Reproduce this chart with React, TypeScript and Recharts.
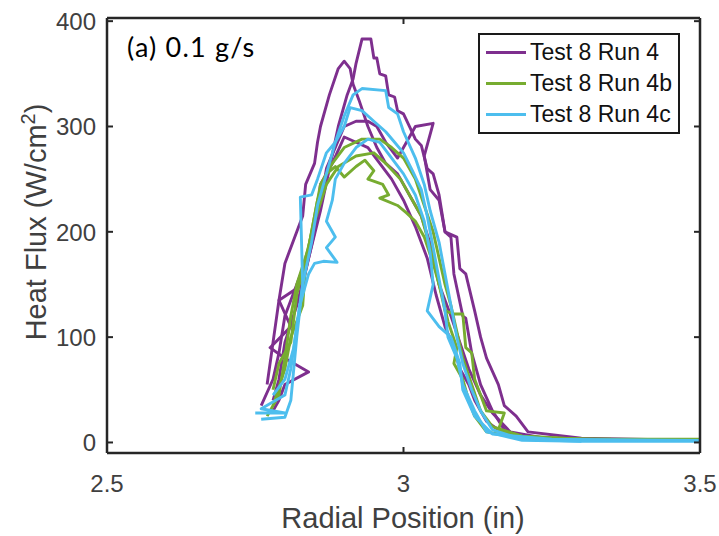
import { LineChart, Line, XAxis, YAxis } from 'recharts'

type Pt = [number, number]

// Test 8 Run 4 (purple) - each sweep is its own trace
const run4A: Pt[] = [
  [2.78, 40], [2.79, 60], [2.8, 95], [2.82, 130], [2.84, 175], [2.86, 220], [2.875, 260],
  [2.89, 300], [2.905, 330], [2.915, 345], [2.92, 360], [2.93, 383], [2.945, 383], [2.95, 365],
  [2.955, 365], [2.96, 350], [2.97, 348], [2.975, 330], [2.985, 328], [2.99, 315], [3.0, 312],
  [3.01, 300], [3.02, 288], [3.03, 282], [3.04, 260], [3.05, 255], [3.06, 235], [3.07, 200],
  [3.08, 195], [3.085, 160], [3.1, 120], [3.105, 118], [3.115, 85], [3.13, 55], [3.15, 30],
  [3.17, 12], [3.2, 5], [3.3, 3], [3.5, 2],
]
const run4B: Pt[] = [
  [2.77, 55], [2.78, 95], [2.79, 135], [2.8, 170], [2.82, 200], [2.83, 215], [2.835, 245],
  [2.85, 265], [2.855, 285], [2.86, 300], [2.875, 330], [2.89, 355], [2.9, 362], [2.91, 355],
  [2.915, 340], [2.925, 325], [2.94, 300], [2.955, 280], [2.97, 265], [2.99, 255], [3.01, 235],
  [3.03, 215], [3.05, 180], [3.06, 150], [3.08, 120], [3.095, 95], [3.11, 70], [3.13, 45],
  [3.15, 28], [3.18, 10], [3.25, 3], [3.4, 2],
]
const run4C: Pt[] = [
  [2.76, 35], [2.78, 60], [2.79, 85], [2.8, 120], [2.82, 150], [2.84, 180], [2.86, 225],
  [2.87, 260], [2.885, 280], [2.9, 300], [2.92, 305], [2.94, 305], [2.955, 300], [2.97, 285],
  [2.99, 270], [3.02, 300], [3.05, 303], [3.035, 272], [3.045, 240], [3.06, 230], [3.07, 200],
  [3.09, 195], [3.095, 165], [3.105, 160], [3.12, 125], [3.13, 100], [3.14, 80], [3.16, 55],
  [3.17, 35], [3.19, 25], [3.21, 10], [3.3, 4], [3.5, 2],
]
const run4D: Pt[] = [
  [2.78, 30], [2.79, 40], [2.8, 55], [2.84, 67], [2.8, 80], [2.775, 90], [2.81, 110],
  [2.79, 135], [2.83, 150], [2.85, 200], [2.86, 245], [2.88, 265], [2.9, 290], [2.92, 285],
  [2.94, 280], [2.96, 265], [2.98, 250], [3.0, 230], [3.02, 205], [3.04, 175], [3.055, 140],
  [3.07, 110], [3.085, 90], [3.095, 70], [3.11, 55], [3.12, 40], [3.14, 20], [3.17, 8], [3.2, 3],
]

// Test 8 Run 4b (green)
const run4bA: Pt[] = [
  [2.77, 25], [2.79, 45], [2.8, 80], [2.81, 120], [2.82, 150], [2.84, 185], [2.85, 215],
  [2.86, 245], [2.88, 265], [2.9, 280], [2.93, 288], [2.96, 288], [2.98, 280], [3.0, 270],
  [3.02, 250], [3.035, 225], [3.05, 200], [3.06, 175], [3.07, 150], [3.08, 130], [3.09, 105],
  [3.1, 80], [3.115, 55], [3.13, 30], [3.15, 15], [3.2, 6], [3.3, 3], [3.5, 3],
]
const run4bB: Pt[] = [
  [2.78, 35], [2.8, 70], [2.81, 100], [2.83, 130], [2.835, 170], [2.845, 200], [2.855, 230],
  [2.87, 255], [2.885, 262], [2.9, 252], [2.92, 262], [2.935, 268], [2.95, 258], [2.94, 250],
  [2.965, 245], [2.975, 235], [2.96, 232], [2.99, 225], [3.005, 218], [3.02, 210], [3.035, 195],
  [3.05, 170], [3.065, 140], [3.075, 115], [3.09, 90], [3.085, 75], [3.1, 60], [3.11, 40],
  [3.12, 25], [3.14, 10], [3.2, 4], [3.35, 3],
]
const run4bC: Pt[] = [
  [2.78, 50], [2.79, 75], [2.81, 95], [2.82, 140], [2.835, 175], [2.85, 210], [2.87, 245],
  [2.89, 262], [2.92, 272], [2.95, 275], [2.97, 265], [2.995, 250], [3.01, 235], [3.03, 215],
  [3.045, 185], [3.06, 150], [3.07, 125], [3.085, 122], [3.1, 122], [3.105, 90], [3.115, 85],
  [3.12, 60], [3.13, 45], [3.14, 30], [3.17, 28], [3.16, 12], [3.2, 6], [3.3, 3],
]

// Test 8 Run 4c (cyan)
const run4cA: Pt[] = [
  [2.75, 28], [2.8, 28], [2.76, 32], [2.8, 45], [2.81, 70], [2.82, 110], [2.83, 150],
  [2.845, 190], [2.855, 225], [2.87, 255], [2.885, 285], [2.9, 310], [2.915, 330], [2.93, 336],
  [2.97, 334], [2.975, 318], [2.99, 312], [3.0, 295], [3.02, 270], [3.035, 245], [3.045, 220],
  [3.06, 190], [3.07, 160], [3.08, 130], [3.09, 100], [3.1, 75], [3.115, 50], [3.13, 30],
  [3.15, 12], [3.2, 3], [3.3, 1], [3.5, 1],
]
const run4cB: Pt[] = [
  [2.76, 22], [2.8, 24], [2.81, 40], [2.815, 70], [2.82, 100], [2.83, 150], [2.826, 233],
  [2.845, 235], [2.855, 250], [2.87, 275], [2.885, 285], [2.9, 300], [2.91, 318], [2.93, 315],
  [2.95, 305], [2.97, 295], [2.985, 285], [3.0, 275], [3.015, 258], [3.03, 240], [3.04, 215],
  [3.05, 185], [3.06, 155], [3.07, 125], [3.075, 100], [3.09, 80], [3.1, 55], [3.12, 30],
  [3.14, 10], [3.2, 2], [3.3, 1],
]
const run4cC: Pt[] = [
  [2.78, 45], [2.8, 60], [2.815, 90], [2.825, 130], [2.84, 160], [2.85, 170], [2.865, 172],
  [2.888, 171], [2.87, 185], [2.885, 195], [2.87, 210], [2.88, 230], [2.885, 250], [2.9, 265],
  [2.92, 280], [2.94, 288], [2.96, 285], [2.98, 270], [3.0, 255], [3.02, 235], [3.035, 210],
  [3.045, 180], [3.05, 150], [3.04, 125], [3.06, 110], [3.08, 100], [3.095, 75], [3.1, 50],
  [3.12, 25], [3.15, 8], [3.25, 3], [3.5, 2],
]

const xTicks = [2.5, 3, 3.5]
const yTicks = [0, 100, 200, 300, 400]

const series = [
  { name: 'Test 8 Run 4', color: '#7E2F8E', traces: [run4A, run4B, run4C, run4D] },
  { name: 'Test 8 Run 4b', color: '#77AC30', traces: [run4bA, run4bB, run4bC] },
  { name: 'Test 8 Run 4c', color: '#4DBEEE', traces: [run4cA, run4cB, run4cC] },
]

const FONT = '"Liberation Sans", Arial, sans-serif'
const AXIS = '#262626'
const TICK_TEXT = '#404040'

function BottomTick(props: any) {
  const { x, y, payload } = props
  return (
    <g>
      <line x1={x} y1={y} x2={x} y2={y - 6} stroke={AXIS} strokeWidth={2} />
      <text x={x} y={y + 39} textAnchor="middle" fontSize={24} fill={TICK_TEXT} fontFamily={FONT}>
        {payload.value}
      </text>
    </g>
  )
}

function LeftTick(props: any) {
  const { x, y, payload } = props
  return (
    <g>
      <line x1={x} y1={y} x2={x + 6} y2={y} stroke={AXIS} strokeWidth={2} />
      <text x={x - 11} y={y + 9} textAnchor="end" fontSize={24} fill={TICK_TEXT} fontFamily={FONT}>
        {payload.value}
      </text>
    </g>
  )
}

function TopTick(props: any) {
  const { x, y } = props
  return <line x1={x} y1={y} x2={x} y2={y + 6} stroke={AXIS} strokeWidth={2} />
}

function RightTick(props: any) {
  const { x, y } = props
  return <line x1={x} y1={y} x2={x - 6} y2={y} stroke={AXIS} strokeWidth={2} />
}

function LegendBox() {
  return (
    <div
      style={{
        position: 'absolute',
        left: 478,
        top: 33,
        border: '2px solid #1a1a1a',
        background: '#fff',
        padding: '2px 6px 2px 6px',
        fontFamily: FONT,
        fontSize: 23,
        color: '#111',
      }}
    >
      {series.map((s) => (
        <div key={s.name} style={{ display: 'flex', alignItems: 'center', height: 31 }}>
          <span style={{ display: 'inline-block', width: 40, height: 3, background: s.color, marginRight: 4 }} />
          <span>{s.name}</span>
        </div>
      ))}
    </div>
  )
}

export default function App() {
  return (
    <div style={{ position: 'absolute', left: 0, top: 0, width: 719, height: 536, background: '#fff' }}>
      <LineChart width={719} height={536} margin={{ top: 17, right: 18, bottom: 0, left: 0 }}>
        <XAxis
          dataKey="x"
          type="number"
          domain={[2.5, 3.5]}
          ticks={xTicks}
          allowDataOverflow
          height={83}
          tickSize={0}
          tickMargin={0}
          tick={<BottomTick />}
          tickLine={false}
          axisLine={{ stroke: AXIS, strokeWidth: 2.5 }}
        />
        <XAxis
          xAxisId="top"
          orientation="top"
          dataKey="x"
          type="number"
          domain={[2.5, 3.5]}
          ticks={xTicks}
          allowDataOverflow
          height={1}
          tickSize={0}
          tickMargin={0}
          tick={<TopTick />}
          tickLine={false}
          axisLine={{ stroke: AXIS, strokeWidth: 2.5 }}
        />
        <YAxis
          type="number"
          domain={[-10, 403]}
          ticks={yTicks}
          allowDataOverflow
          width={107}
          tickSize={0}
          tickMargin={0}
          tick={<LeftTick />}
          tickLine={false}
          axisLine={{ stroke: AXIS, strokeWidth: 2.5 }}
        />
        <YAxis
          yAxisId="right"
          orientation="right"
          type="number"
          domain={[-10, 403]}
          ticks={yTicks}
          allowDataOverflow
          width={1}
          tickSize={0}
          tickMargin={0}
          tick={<RightTick />}
          tickLine={false}
          axisLine={{ stroke: AXIS, strokeWidth: 2.5 }}
        />
        {series.flatMap((s) =>
          s.traces.map((t, i) => (
            <Line
              key={s.name + i}
              data={t.map(([x, y]) => ({ x, y }))}
              dataKey="y"
              type="linear"
              stroke={s.color}
              strokeWidth={2.9}
              strokeLinejoin="round"
              dot={false}
              isAnimationActive={false}
            />
          ))
        )}
        {/* invisible carrier so the mirrored top/right axes get a domain */}
        <Line
          xAxisId="top"
          yAxisId="right"
          data={[{ x: 2.5, y: 0 }, { x: 3.5, y: 0 }]}
          dataKey="y"
          stroke="none"
          dot={false}
          isAnimationActive={false}
        />
      </LineChart>
      <LegendBox />
      <div
        style={{
          position: 'absolute',
          left: 127,
          top: 30,
          fontFamily: 'Lato, "Open Sans", sans-serif',
          fontSize: 27,
          letterSpacing: 1.2,
          color: '#000',
        }}
      >
        (a) 0.1 g/s
      </div>
      <div
        style={{
          position: 'absolute',
          left: 403,
          top: 518,
          transform: 'translate(-50%, -50%)',
          whiteSpace: 'nowrap',
          fontFamily: FONT,
          fontSize: 29,
          color: TICK_TEXT,
        }}
      >
        Radial Position (in)
      </div>
      <div
        style={{
          position: 'absolute',
          left: 35,
          top: 222,
          transform: 'translate(-50%, -50%) rotate(-90deg)',
          whiteSpace: 'nowrap',
          fontFamily: FONT,
          fontSize: 29,
          color: TICK_TEXT,
        }}
      >
        Heat Flux (W/cm<sup style={{ fontSize: 20 }}>2</sup>)
      </div>
    </div>
  )
}
